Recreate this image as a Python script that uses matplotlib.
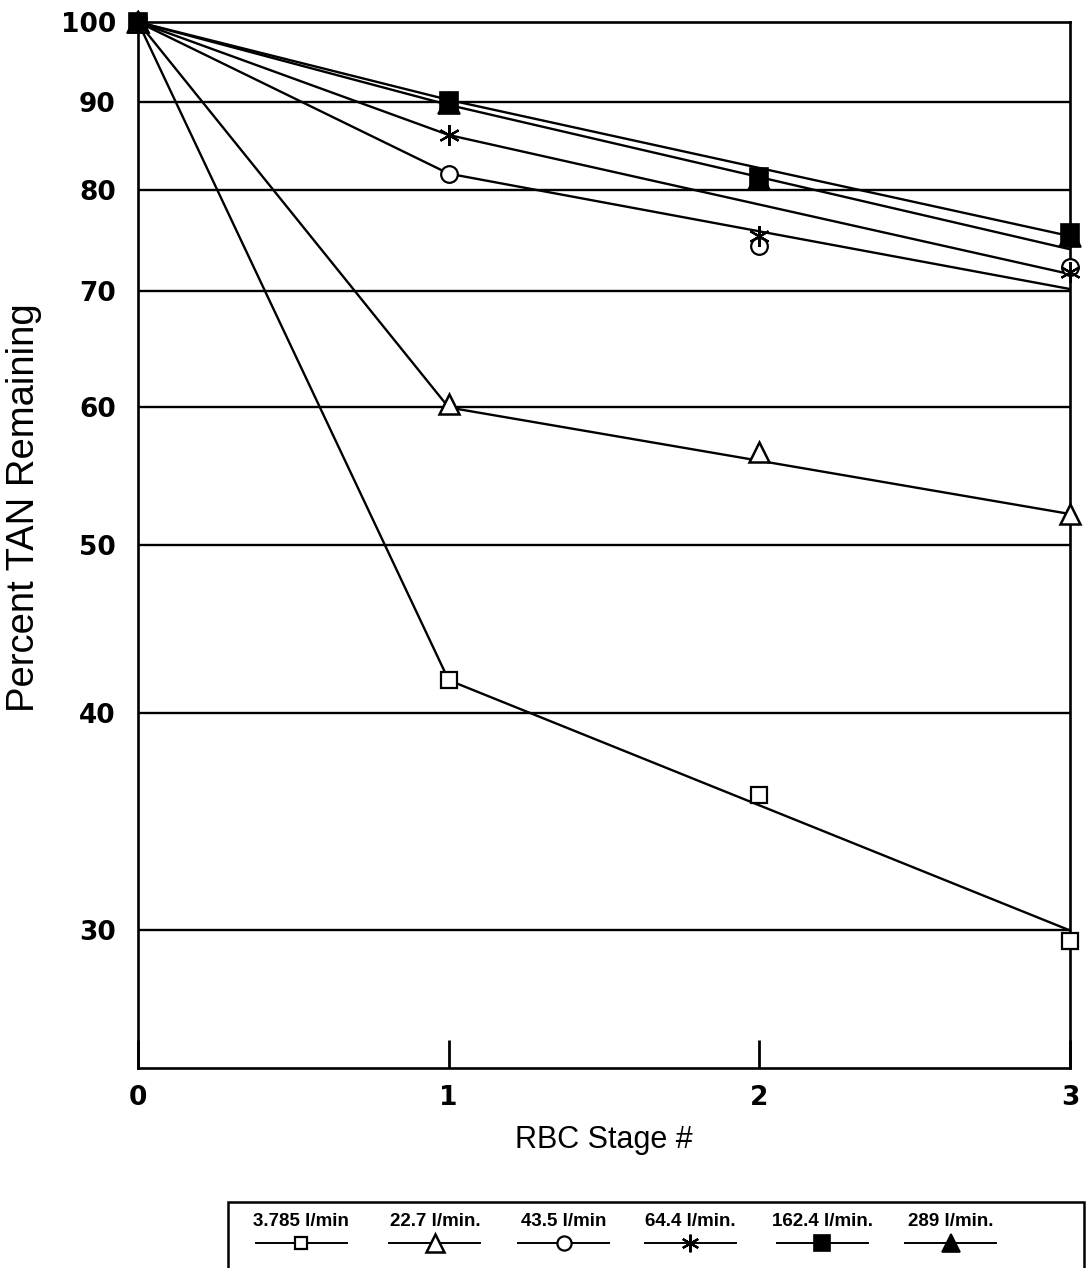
import matplotlib
matplotlib.use("Agg")
import matplotlib.pyplot as plt
from matplotlib.lines import Line2D
from matplotlib.patches import Rectangle

# RBC stage numbers
stages = [0, 1, 2, 3]
fit_stages = [0, 1, 3]

flow_labels = ["3.785 l/min", "22.7 l/min.", "43.5 l/min", "64.4 l/min.",
               "162.4 l/min.", "289 l/min."]

# Measured percent TAN remaining after each stage
tan_3785 = [100, 41.8, 35.9, 29.6]
tan_227 = [100, 60.3, 56.6, 52.1]
tan_435 = [100, 81.8, 74.3, 72.3]
tan_644 = [100, 86.1, 75.3, 71.8]
tan_1624 = [100, 90.1, 81.4, 75.6]
tan_289 = [100, 89.8, 81.2, 75.3]

# Fitted curves (stage 0, 1 and 3)
fit_3785 = [100, 41.8, 30.0]
fit_227 = [100, 60.0, 52.1]
fit_435 = [100, 81.8, 70.2]
fit_644 = [100, 86.1, 71.6]
fit_1624 = [100, 90.2, 75.3]
fit_289 = [100, 89.6, 74.0]

y_ticks = [30, 40, 50, 60, 70, 80, 90, 100]

measured = [tan_3785, tan_227, tan_435, tan_644, tan_1624, tan_289]
fitted = [fit_3785, fit_227, fit_435, fit_644, fit_1624, fit_289]

asterisk = (6, 2, 0)
styles = [
    dict(marker="s", mfc="white", ms=11, mew=1.6),
    dict(marker="^", mfc="white", ms=15, mew=1.8),
    dict(marker="o", mfc="white", ms=12, mew=1.6),
    dict(marker=asterisk, mfc="black", ms=15, mew=1.6),
    dict(marker="s", mfc="black", ms=13, mew=1.2),
    dict(marker="^", mfc="black", ms=16, mew=1.2),
]
# filled triangles sit beneath the filled squares
marker_z = [5, 5, 5, 5, 5, 4]

fig = plt.figure(figsize=(10.92, 12.68), dpi=100)
ax = fig.add_axes([0.1264, 0.1577, 0.8535, 0.8249])

for fy in fitted:
    ax.plot(fit_stages, fy, color="black", lw=1.7, zorder=3)
for my, st, z in zip(measured, styles, marker_z):
    ax.plot(stages, my, linestyle="none", color="black", mec="black",
            zorder=z, clip_on=False, **st)

ax.set_yscale("log")
ax.set_ylim(25, 100)
ax.set_xlim(0, 3)
ax.set_yticks(y_ticks)
ax.set_yticklabels([str(v) for v in y_ticks])
ax.yaxis.set_minor_locator(matplotlib.ticker.NullLocator())
ax.set_xticks(stages)
ax.set_xticklabels([str(s) for s in stages])

for v in y_ticks[:-1]:
    ax.axhline(v, color="black", lw=1.7, zorder=1)

for side in ["left", "right", "bottom", "top"]:
    ax.spines[side].set_linewidth(1.9)

ax.tick_params(axis="x", direction="in", length=20, width=2, pad=12)
ax.tick_params(axis="y", length=0, pad=16)
for lab in ax.get_xticklabels() + ax.get_yticklabels():
    lab.set_fontfamily("DejaVu Sans")
    lab.set_fontweight("bold")
    lab.set_fontsize(19)

ax.set_xlabel("RBC Stage #", fontfamily="Liberation Sans", fontsize=22,
              labelpad=10)
ax.set_ylabel("Percent TAN Remaining", fontfamily="Liberation Sans",
              fontsize=27.5)
ax.yaxis.set_label_coords(-0.103, 0.536)

# Legend box below the plot: label above a short line with the marker
lax = fig.add_axes([0.2088, 0.0, 0.785, 0.052])
lax.set_xlim(0, 1)
lax.set_ylim(0, 1)
lax.axis("off")
lax.add_patch(Rectangle((0.0, -0.2), 0.998, 1.2, fill=False, lw=1.8,
                        edgecolor="black", clip_on=False))
centers = [0.0855, 0.2413, 0.3915, 0.5392, 0.6932, 0.8433]
for cx, lab, st in zip(centers, flow_labels, styles):
    lax.text(cx, 0.70, lab, ha="center", va="center", fontsize=13.5,
             fontweight="bold", fontfamily="Liberation Sans")
    lax.add_line(Line2D([cx - 0.053, cx + 0.053], [0.38, 0.38],
                        color="black", lw=1.4))
    st2 = dict(st)
    st2["ms"] = st["ms"] * 0.85
    lax.add_line(Line2D([cx], [0.38], linestyle="none", color="black",
                        mec="black", **st2))

fig.savefig("out.png", dpi=100)
